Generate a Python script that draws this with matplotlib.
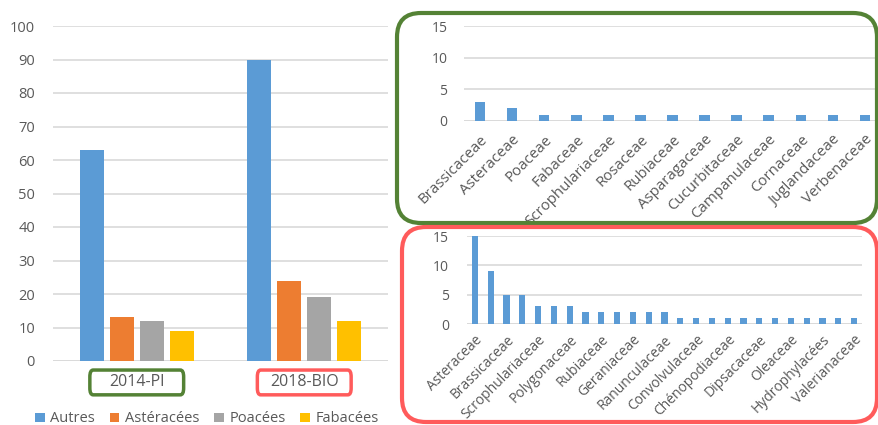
import matplotlib
matplotlib.use("Agg")
import matplotlib.pyplot as plt
import matplotlib.patches as mpatches
from matplotlib.transforms import IdentityTransform, blended_transform_factory
import numpy as np

plt.rcParams['font.family'] = ['Open Sans', 'DejaVu Sans']

# left chart: number of species per group and survey
surveys = ['2014-PI', '2018-BIO']
groups = ['Autres', 'Astéracées', 'Poacées', 'Fabacées']
counts = {
    'Autres': [63, 90],
    'Astéracées': [13, 24],
    'Poacées': [12, 19],
    'Fabacées': [9, 12],
}

# top right: 2014-PI families
pi_families = ['Brassicaceae', 'Asteraceae', 'Poaceae', 'Fabaceae', 'Scrophulariaceae',
               'Rosaceae', 'Rubiaceae', 'Asparagaceae', 'Cucurbitaceae', 'Campanulaceae',
               'Cornaceae', 'Juglandaceae', 'Verbenaceae']
pi_counts = [3, 2, 1, 1, 1, 1, 1, 1, 1, 1, 1, 1, 1]

# bottom right: 2018-BIO families (every other label is not shown on the chart)
bio_families = ['Asteraceae', '', 'Brassicaceae', '', 'Scrophulariaceae', '', 'Polygonaceae', '',
                'Rubiaceae', '', 'Geraniaceae', '', 'Ranunculaceae', '', 'Convolvulaceae', '',
                'Chénopodiaceae', '', 'Dipsacaceae', '', 'Oleaceae', '', 'Hydrophylacées', '',
                'Valerianaceae']
bio_counts = [15, 9, 5, 5, 3, 3, 3, 2, 2, 2, 2, 2, 2, 1, 1, 1, 1, 1, 1, 1, 1, 1, 1, 1, 1]

colors = ['#5B9BD5', '#ED7D31', '#A5A5A5', '#FFC000']
txt = '#595959'
grid = '#D9D9D9'
W, H = 879, 425

fig = plt.figure(figsize=(W / 100, H / 100), dpi=100)


def style(ax, fs):
    for s in ax.spines.values():
        s.set_visible(False)
    ax.grid(axis='y', color=grid, linewidth=1.2)
    ax.set_axisbelow(True)
    ax.axhline(0, color=grid, linewidth=1.2, zorder=0.5)
    ax.tick_params(length=0, colors=txt, labelsize=fs)


def box(x0, y0, x1, y1, color, r=24):
    # pixel coordinates from top-left
    p = mpatches.FancyBboxPatch((x0, H - y1), x1 - x0, y1 - y0,
                                boxstyle='round,pad=0,rounding_size=%d' % r,
                                fill=False, edgecolor=color, linewidth=3,
                                transform=IdentityTransform())
    fig.add_artist(p)


# ---- left grouped bar chart
ax = fig.add_axes([53 / W, 1 - 361 / H, 335 / W, 335 / H])
style(ax, 10.5)
x = np.arange(len(surveys))
bw = 0.143
step = 0.179
for i, g in enumerate(groups):
    ax.bar(x + (i - 1.5) * step, counts[g], bw, color=colors[i], label=g)
ax.set_xlim(-0.5, 1.5)
ax.set_ylim(0, 100)
ax.set_yticks(np.arange(0, 101, 10))
ax.tick_params(axis='y', pad=13)
ax.set_xticks(x)
ax.set_xticklabels([])
tr = blended_transform_factory(ax.transData, ax.transAxes)
for xi, lab, col in zip(x, surveys, ['#548235', '#FF5B5B']):
    ax.text(xi, -0.064, lab, transform=tr, ha='center', va='center',
            fontsize=11.5, color=txt)
    ax.add_patch(mpatches.FancyBboxPatch((xi - 0.28, -0.101), 0.56, 0.074,
                                         boxstyle='round,pad=0,rounding_size=0.02',
                                         transform=tr, fill=False, edgecolor=col,
                                         linewidth=2.5, clip_on=False))
leg = fig.legend(loc='center', bbox_to_anchor=(207 / W, 1 - 419 / H), ncol=4,
                 frameon=False, fontsize=10.5, handlelength=0.65, handleheight=0.65,
                 handletextpad=0.4, columnspacing=1.0, borderpad=0)
for t in leg.get_texts():
    t.set_color(txt)

# ---- top right: 2014-PI families
ax2 = fig.add_axes([464 / W, 1 - 121 / H, 417 / W, 95 / H])
style(ax2, 10)
xp = np.arange(len(pi_families))
ax2.bar(xp, pi_counts, 0.33, color=colors[0])
ax2.set_xlim(-0.5, len(pi_families) - 0.5)
ax2.set_ylim(0, 15)
ax2.set_yticks([0, 5, 10, 15])
ax2.tick_params(axis='y', pad=12)
ax2.set_xticks(xp)
ax2.set_xticklabels(pi_families, rotation=45, ha='right', rotation_mode='anchor',
                    fontsize=10.8)
ax2.tick_params(axis='x', pad=8)
box(397, 13, 877, 223, '#548235')

# ---- bottom right: 2018-BIO families
ax3 = fig.add_axes([467 / W, 1 - 324 / H, 395 / W, 88 / H])
style(ax3, 10)
xb = np.arange(len(bio_families))
ax3.bar(xb, bio_counts, 0.38, color=colors[0])
ax3.set_xlim(-0.5, len(bio_families) - 0.5)
ax3.set_ylim(0, 15)
ax3.set_yticks([0, 5, 10, 15])
ax3.tick_params(axis='y', pad=13)
shown = [i for i, f in enumerate(bio_families) if f]
ax3.set_xticks(shown)
ax3.set_xticklabels([bio_families[i] for i in shown], rotation=45, ha='right',
                    rotation_mode='anchor', fontsize=10)
ax3.tick_params(axis='x', pad=6)
box(402, 227, 877, 422, '#FF5B5B')

fig.savefig('out.png', dpi=100)
